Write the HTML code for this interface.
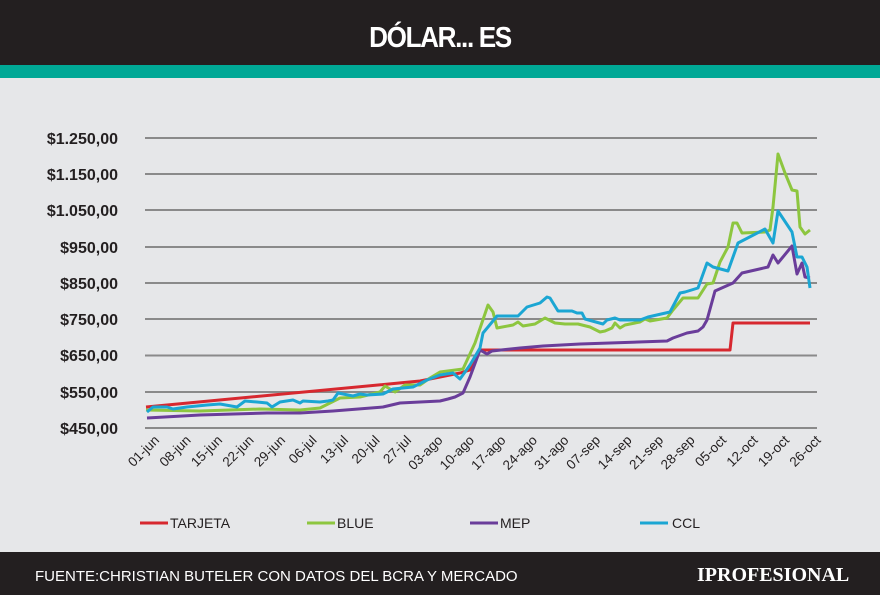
<!DOCTYPE html>
<html><head><meta charset="utf-8"><style>
body{margin:0;width:880px;height:595px;overflow:hidden;background:#e6e7e9;font-family:"Liberation Sans",sans-serif;}
</style></head><body>
<svg width="880" height="595" xmlns="http://www.w3.org/2000/svg" style="position:absolute;left:0;top:0">
<rect x="0" y="0" width="880" height="66" fill="#231f20"/>
<rect x="0" y="65" width="880" height="13" fill="#00a896"/>
<text x="440" y="47" text-anchor="middle" fill="#fff" font-size="29" font-weight="bold" font-family="Liberation Sans Narrow, Liberation Sans, sans-serif" letter-spacing="-1.5" transform="translate(440,0) scale(0.9,1) translate(-440,0)">DÓLAR... ES</text>
<g stroke="#8a8a8a" stroke-width="2">
<line x1="145" x2="817" y1="138" y2="138"/><line x1="145" x2="817" y1="174" y2="174"/><line x1="145" x2="817" y1="210" y2="210"/><line x1="145" x2="817" y1="247" y2="247"/><line x1="145" x2="817" y1="283" y2="283"/><line x1="145" x2="817" y1="319" y2="319"/><line x1="145" x2="817" y1="355.5" y2="355.5"/><line x1="145" x2="817" y1="392" y2="392"/><line x1="145" x2="817" y1="428" y2="428"/>
</g>
<g font-size="16" font-weight="bold" fill="#231f20" text-anchor="end">
<text x="118" y="144">$1.250,00</text><text x="118" y="180">$1.150,00</text><text x="118" y="216">$1.050,00</text><text x="118" y="253">$950,00</text><text x="118" y="289">$850,00</text><text x="118" y="325">$750,00</text><text x="118" y="361">$650,00</text><text x="118" y="398">$550,00</text><text x="118" y="434">$450,00</text>
</g>
<g font-size="13.5" fill="#231f20" text-anchor="end">
<text transform="translate(160,441) rotate(-45)">01-jun</text>
<text transform="translate(191.5,441) rotate(-45)">08-jun</text>
<text transform="translate(223,441) rotate(-45)">15-jun</text>
<text transform="translate(254.5,441) rotate(-45)">22-jun</text>
<text transform="translate(286,441) rotate(-45)">29-jun</text>
<text transform="translate(317.5,441) rotate(-45)">06-jul</text>
<text transform="translate(349,441) rotate(-45)">13-jul</text>
<text transform="translate(380.5,441) rotate(-45)">20-jul</text>
<text transform="translate(412,441) rotate(-45)">27-jul</text>
<text transform="translate(443.5,441) rotate(-45)">03-ago</text>
<text transform="translate(475,441) rotate(-45)">10-ago</text>
<text transform="translate(506.5,441) rotate(-45)">17-ago</text>
<text transform="translate(538,441) rotate(-45)">24-ago</text>
<text transform="translate(569.5,441) rotate(-45)">31-ago</text>
<text transform="translate(601,441) rotate(-45)">07-sep</text>
<text transform="translate(632.5,441) rotate(-45)">14-sep</text>
<text transform="translate(664,441) rotate(-45)">21-sep</text>
<text transform="translate(695.5,441) rotate(-45)">28-sep</text>
<text transform="translate(727,441) rotate(-45)">05-oct</text>
<text transform="translate(758.5,441) rotate(-45)">12-oct</text>
<text transform="translate(790,441) rotate(-45)">19-oct</text>
<text transform="translate(821.5,441) rotate(-45)">26-oct</text>
</g>
<g fill="none" stroke-width="3" stroke-linejoin="round">
<polyline stroke="#d7282f" points="146,407 420,381 440,377 460,373 470,370 480,350 730,350 733,323 810,323"/>
<polyline stroke="#8dc63f" points="146,410 200,411 260,409 300,410 320,408 340,398 360,397 380,392 385,386 395,392 405,385 420,385 430,378 440,372 463,369 475,343 488,305 493,312 497,328 513,325 518,322 523,326 535,324 540,321 545,318 555,323 565,324 578,324 590,327 600,332 605,331 612,328 615,323 620,328 625,325 640,322 645,319 650,321 667,318 673,310 683,298 698,298 707,284 713,283 720,262 728,247 733,223 737,223 742,233 765,232 770,230 773,207 778,154 785,173 792,190 797,191 800,227 805,234 810,230"/>
<polyline stroke="#6a3d9a" points="147,418 200,415 267,413 300,413 333,411 383,407 400,403 440,401 448,399 455,397 463,393 470,377 480,350 487,354 492,351 520,348 543,346 580,344 667,341 673,338 687,333 698,331 703,327 707,320 715,291 733,283 742,273 768,267 773,255 778,263 792,246 797,274 802,263 805,277 810,278"/>
<polyline stroke="#1ba6d3" points="147,412 153,407 167,407 173,409 187,407 207,405 220,404 237,407 245,401 257,402 267,403 272,407 280,402 293,400 300,403 303,401 320,402 328,401 333,400 338,393 343,394 353,396 360,394 367,395 383,394 393,389 413,387 427,380 440,375 453,373 460,379 470,365 480,348 483,333 488,327 497,316 518,316 527,307 540,303 547,297 550,298 558,311 572,311 577,313 582,313 585,319 603,324 607,320 615,318 620,320 640,320 648,317 670,312 680,293 685,292 698,288 707,263 713,267 728,271 738,243 765,229 773,243 778,211 792,232 797,257 802,257 807,267 810,288"/>
</g>
<g stroke-width="3">
<line x1="140" x2="168" y1="523" y2="523" stroke="#d7282f"/>
<line x1="307" x2="335" y1="523" y2="523" stroke="#8dc63f"/>
<line x1="470" x2="498" y1="523" y2="523" stroke="#6a3d9a"/>
<line x1="640" x2="668" y1="523" y2="523" stroke="#1ba6d3"/>
</g>
<g font-size="14" fill="#231f20">
<text x="170" y="528">TARJETA</text><text x="337" y="528">BLUE</text><text x="500" y="528">MEP</text><text x="672" y="528">CCL</text>
</g>
<rect x="0" y="552" width="880" height="43" fill="#231f20"/>
<text x="35" y="581" fill="#fff" font-size="15">FUENTE:CHRISTIAN BUTELER CON DATOS DEL BCRA Y MERCADO</text>
<text x="697" y="581" fill="#fff" font-size="20" font-weight="bold" font-family="Liberation Serif, serif">IPROFESIONAL</text>
</svg>
</body></html>
